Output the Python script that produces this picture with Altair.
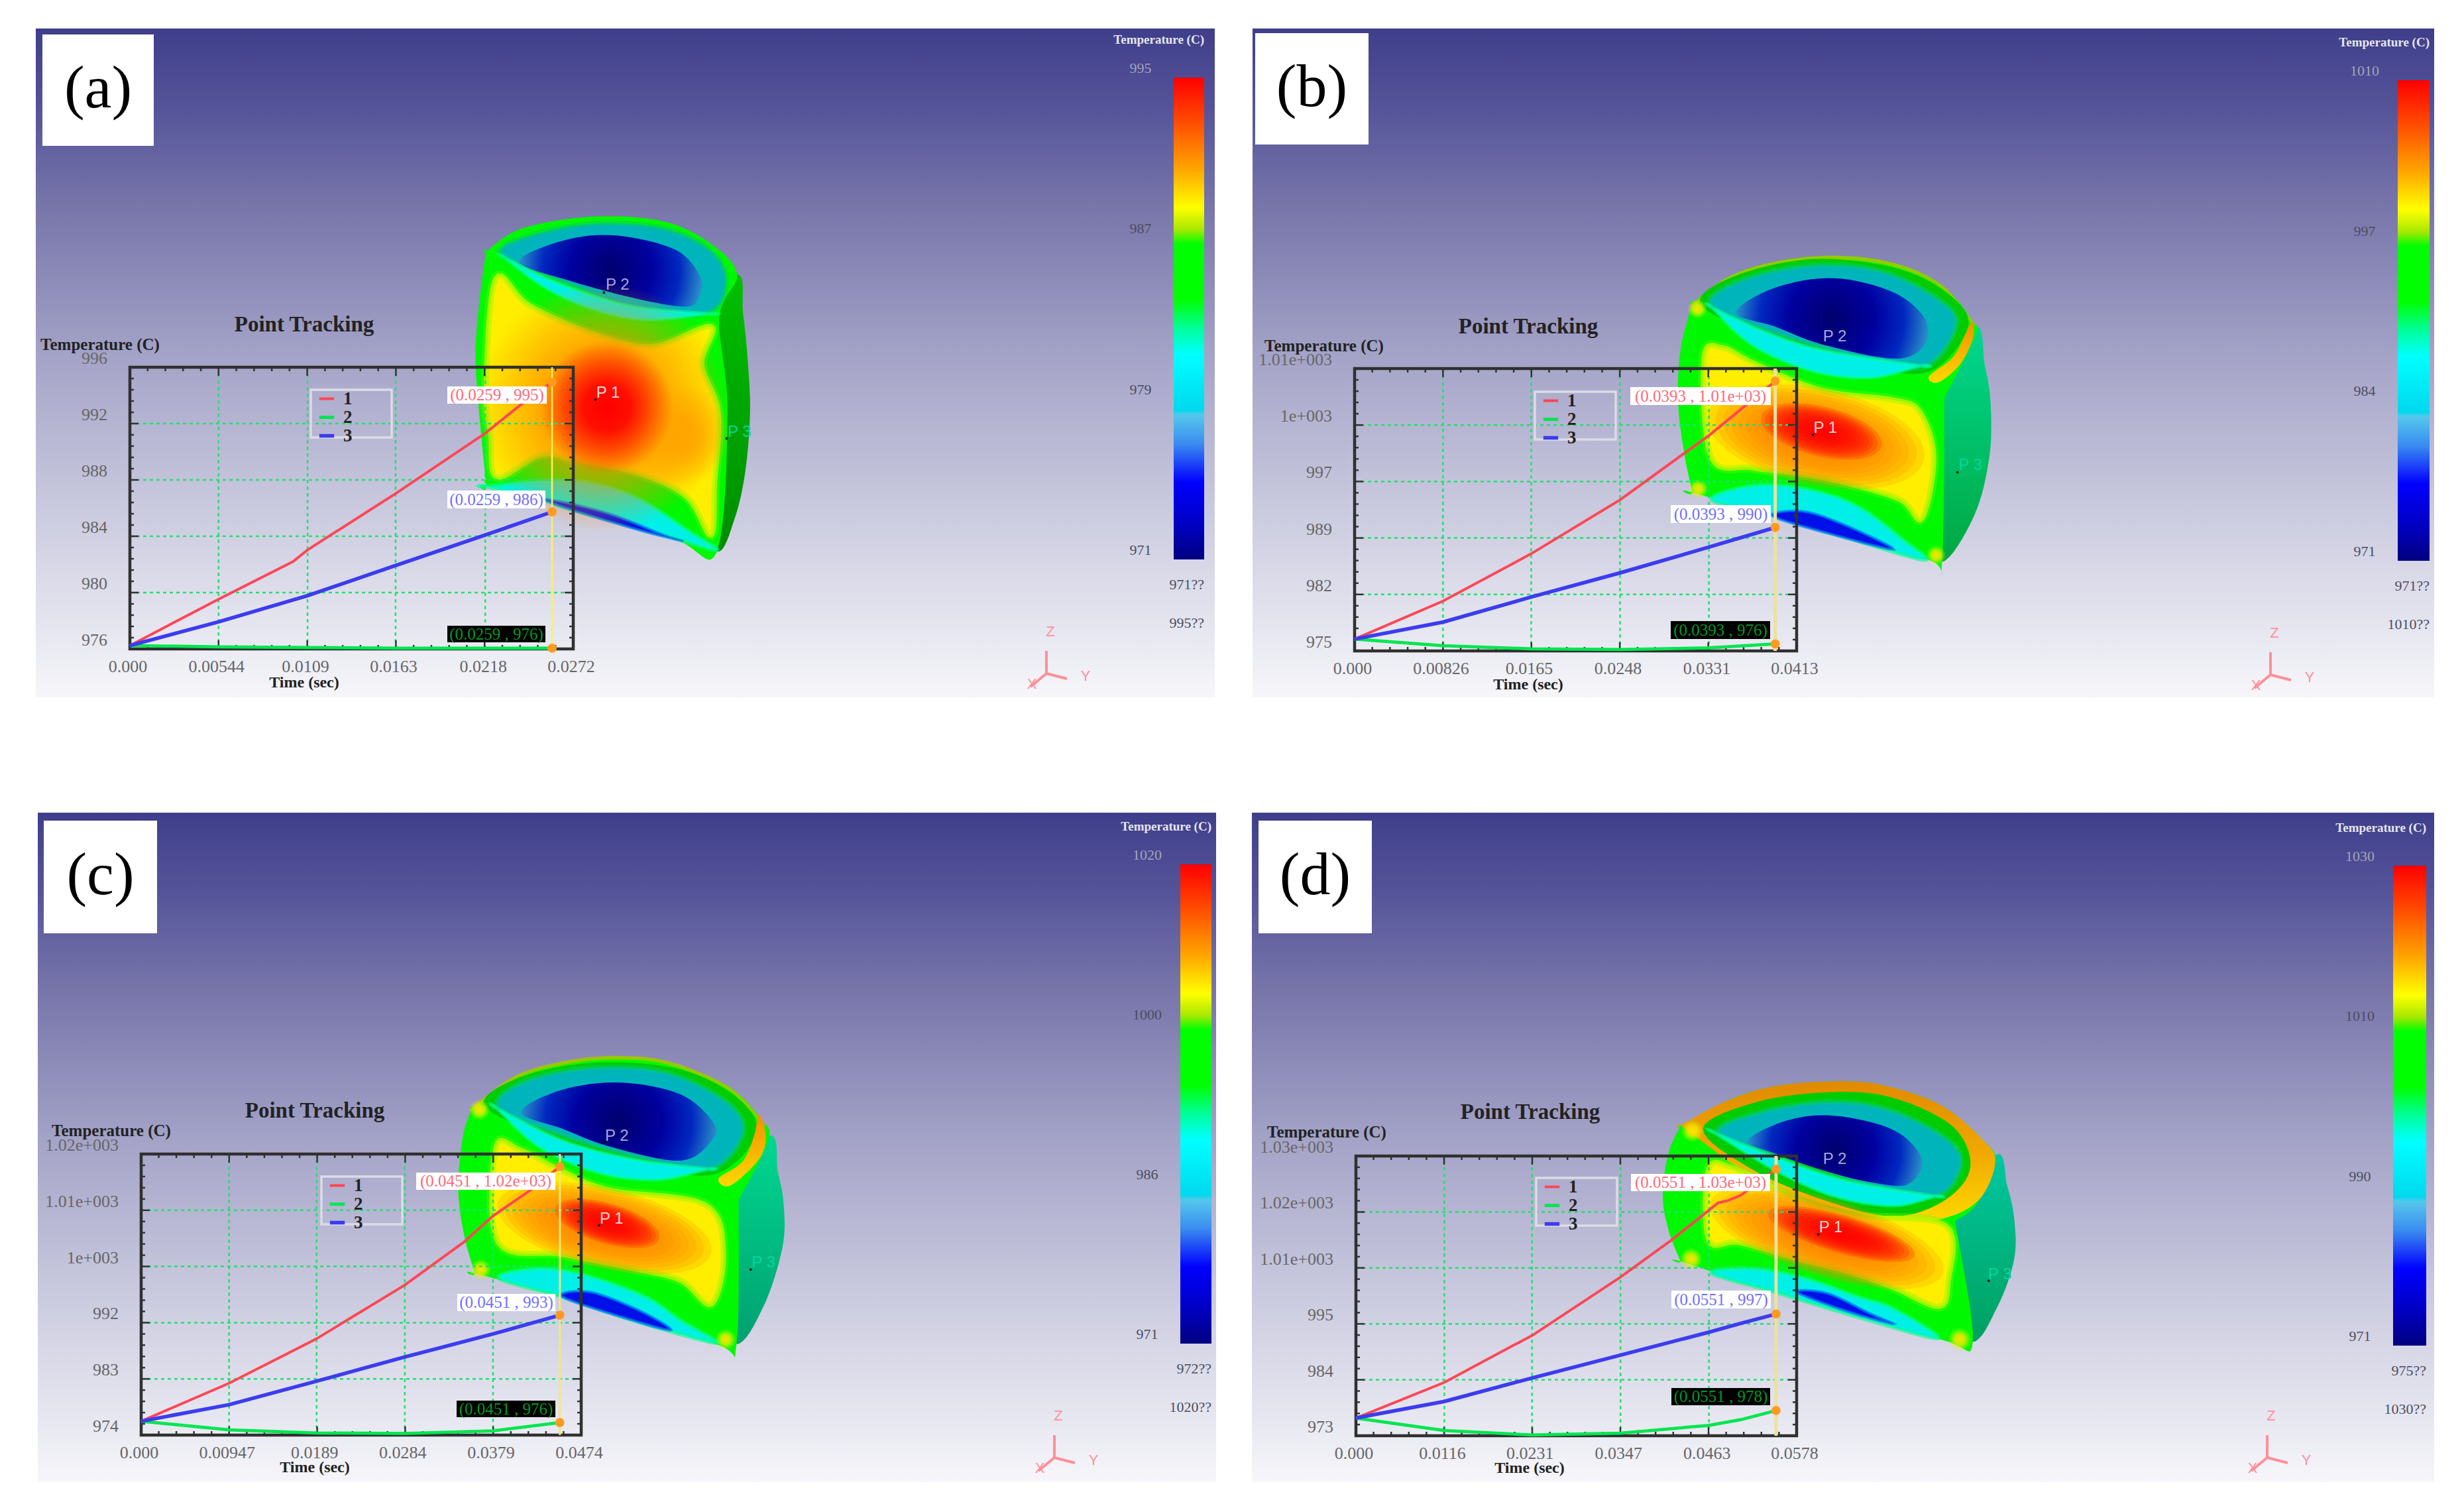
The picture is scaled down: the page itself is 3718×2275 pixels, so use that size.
import math

import altair as alt
import pandas as pd

T_A_1 = [0, 0.00544, 0.0100, 0.0109, 0.0163, 0.0218, 0.0240, 0.0259]
RED_A = [976.24, 979.53, 982.2, 983.03, 987.03, 991.31, 993.36, 994.94]
T_A = [0, 0.00544, 0.0109, 0.0163, 0.0218, 0.0259]
GREEN_A = [976.24, 976.15, 976.1, 976.05, 976.05, 976.05]
BLUE_A = [976.24, 977.92, 979.78, 981.92, 984.09, 985.73]

T_B_1 = [0, 0.00826, 0.0165, 0.0248, 0.0309, 0.0331, 0.0364, 0.0393]
RED_B = [976.51, 981.36, 987.39, 994.26, 1000.29, 1002.46, 1006.15, 1009.4]
T_B = [0, 0.00826, 0.0165, 0.0248, 0.0331, 0.0393]
GREEN_B = [976.51, 975.67, 975.27, 975.17, 975.4, 975.9]
BLUE_B = [976.51, 978.68, 981.87, 984.95, 988.23, 990.74]

T_C_1 = [0, 0.00947, 0.0189, 0.0284, 0.0348, 0.0379, 0.0422, 0.0451]
RED_C = [976.22, 982.3, 989.43, 998.03, 1004.95, 1009.1, 1013.5, 1017.0]
T_C = [0, 0.00947, 0.0189, 0.0284, 0.0379, 0.0451]
GREEN_C = [976.22, 974.84, 974.34, 974.25, 974.67, 976.01]
BLUE_C = [976.22, 978.87, 982.64, 986.5, 990.19, 993.2]

T_D_1 = [0, 0.0116, 0.0205, 0.0231, 0.0347, 0.0415, 0.0475, 0.0487, 0.0505, 0.0551]
RED_D = [976.48, 983.49, 990.65, 992.7, 1004.2, 1011.6, 1018.8, 1019.2, 1020.3, 1025.4]
T_D = [0, 0.0116, 0.0231, 0.0347, 0.0463, 0.0505, 0.0551]
GREEN_D = [976.48, 974.02, 973.15, 973.51, 975.05, 976.17, 977.96]
BLUE_D = [976.48, 979.75, 984.36, 988.86, 993.36, 995.1, 996.94]

# --- tick values and their labels ---
XTICKS_A = [0, 0.00544, 0.0109, 0.0163, 0.0218, 0.0272]
XLABELS_A = ["0.000", "0.00544", "0.0109", "0.0163", "0.0218", "0.0272"]
YTICKS_A = [976, 980, 984, 988, 992, 996]
YLABELS_A = ["976", "980", "984", "988", "992", "996"]

XTICKS_B = [0, 0.00826, 0.0165, 0.0248, 0.0331, 0.0413]
XLABELS_B = ["0.000", "0.00826", "0.0165", "0.0248", "0.0331", "0.0413"]
YTICKS_B = [975, 982.2, 989.4, 996.6, 1003.8, 1011]
YLABELS_B = ["975", "982", "989", "997", "1e+003", "1.01e+003"]

XTICKS_C = [0, 0.00947, 0.0189, 0.0284, 0.0379, 0.0474]
XLABELS_C = ["0.000", "0.00947", "0.0189", "0.0284", "0.0379", "0.0474"]
YTICKS_C = [974, 983, 992, 1001, 1010, 1019]
YLABELS_C = ["974", "983", "992", "1e+003", "1.01e+003", "1.02e+003"]

XTICKS_D = [0, 0.0116, 0.0231, 0.0347, 0.0463, 0.0578]
XLABELS_D = ["0.000", "0.0116", "0.0231", "0.0347", "0.0463", "0.0578"]
YTICKS_D = [973, 984, 995, 1006, 1017, 1028]
YLABELS_D = ["973", "984", "995", "1.01e+003", "1.02e+003", "1.03e+003"]

# --- colour bar labels, top to bottom ---
BAR_A = ["995", "987", "979", "971"]
BAR_B = ["1010", "997", "984", "971"]
BAR_C = ["1020", "1000", "986", "971"]
BAR_D = ["1030", "1010", "990", "971"]

SERIES = ["1", "2", "3"]
SERIES_COLORS = ["#ff4655", "#00e650", "#3c3cf0"]

# --- the rendered solid, outlines in zoomed-crop units (2.8 per pixel) ---
ZOOM = 2.8
SOLID_A = dict(
    origin=(680, 300),
    side=[(1210, 320), (1235, 480), (1255, 680), (1265, 900), (1245, 1150), (1200, 1350), (1125, 1490), (1000, 1300), (1000, 500)],
    side_fill=("#00c000", "#008c00"),
    body=[(150, 222), (150, 222), (300, 125), (600, 75), (900, 95), (1100, 190), (1210, 320), (1135, 500), (1170, 900),
          (1125, 1490), (950, 1440), (500, 1300), (150, 1210), (150, 1210), (120, 900), (105, 650), (125, 400)],
    dark=[],
    ring=[(215, 235), (320, 160), (600, 105), (900, 125), (1100, 220), (1165, 350), (1090, 480), (800, 470), (500, 360)],
    bowl=[(290, 265), (480, 175), (700, 155), (950, 215), (1055, 330), (1050, 410), (1000, 455), (800, 425), (500, 345)],
    lip=[(230, 250), (230, 250), (400, 335), (600, 410), (800, 460), (1090, 485), (1090, 485), (820, 510), (600, 465), (400, 375)],
    rim=[], edge=[],
    zone=[(190, 340), (330, 450), (600, 570), (850, 625), (1100, 540), (1060, 700), (1130, 900), (1115, 1200),
          (1100, 1420), (1000, 1260), (800, 1160), (520, 1100), (380, 1080), (195, 1175), (170, 1000), (150, 800)],
    glows=[(640, 880, 530, "255,140,0"), (960, 1000, 220, "255,165,0"), (660, 880, 280, "255,0,0")],
    streaks=[],
    low=[(150, 1215), (150, 1215), (400, 1190), (600, 1200), (800, 1270), (1000, 1400), (1125, 1485), (900, 1420), (500, 1310), (380, 1270)],
    deep=[(400, 1270), (520, 1290), (700, 1340), (900, 1420), (980, 1445), (800, 1400), (500, 1310)],
    corners=[],
    marks=dict(p1=(665, 820), p2=(705, 365), p3=(1220, 985), d1=(612, 848), d2=(648, 396), d3=(1166, 1012)),
)
SOLID_B = dict(
    origin=(2500, 350),
    side=[(1340, 400), (1385, 560), (1410, 720), (1405, 950), (1340, 1200), (1200, 1395), (1100, 1200), (1100, 700)],
    side_fill=("#00d890", "#00a840"),
    body=[(150, 300), (150, 300), (300, 190), (500, 125), (750, 100), (1000, 130), (1200, 220), (1330, 370), (1345, 440), (1215, 700), (1215, 700),
          (1205, 1395), (1150, 1385), (700, 1260), (150, 1100), (150, 1100), (115, 930), (90, 720), (100, 500)],
    dark=[(185, 305), (320, 190), (650, 115), (1000, 150), (1230, 260), (1315, 400), (1150, 590), (850, 560), (450, 440)],
    ring=[(225, 310), (350, 205), (650, 140), (950, 165), (1200, 290), (1265, 400), (1130, 570), (850, 530), (500, 430)],
    bowl=[(335, 340), (500, 235), (750, 195), (1000, 255), (1135, 370), (1125, 485), (1000, 535), (700, 475), (500, 400)],
    lip=[(235, 320), (235, 320), (450, 420), (700, 500), (1115, 565), (1115, 565), (900, 615), (650, 585), (400, 475)],
    rim=[(1150, 610), (1250, 530), (1300, 440), (1330, 380), (1335, 450), (1280, 560), (1190, 635)],
    edge=[(160, 295), (300, 190), (500, 125), (750, 100), (1000, 130), (1200, 220), (1330, 370)],
    zone=[(200, 530), (280, 490), (420, 560), (700, 670), (1000, 710), (1110, 760), (1170, 950), (1120, 1210),
          (1030, 1130), (800, 1060), (600, 1020), (400, 995), (230, 950)],
    glows=[],
    streaks=[(215, 770, 1130, 960, 205, "255,130,0"), (440, 780, 950, 905, 105, "255,0,0")],
    low=[(230, 1130), (420, 1070), (650, 1090), (850, 1160), (1040, 1300), (1130, 1385), (800, 1290), (500, 1200)],
    deep=[(490, 1200), (620, 1180), (800, 1240), (1000, 1340), (750, 1280)],
    corners=[(172, 325, 30), (175, 1085, 30), (1180, 1365, 30)],
    marks=dict(p1=(712, 830), p2=(752, 442), p3=(1325, 985), d1=(660, 856), d2=(700, 470), d3=(1270, 1015)),
)
SOLID_C = dict(
    origin=(670, 1560),
    side=[(1370, 430), (1410, 580), (1435, 720), (1430, 900), (1350, 1150), (1230, 1310), (1100, 1100), (1100, 700)],
    side_fill=("#00d890", "#00a070"),
    body=[(120, 310), (120, 310), (300, 180), (500, 120), (720, 95), (950, 120), (1200, 220), (1340, 360), (1370, 450), (1245, 700), (1245, 700),
          (1235, 1315), (1150, 1310), (600, 1140), (130, 1010), (130, 1010), (85, 850), (60, 650), (80, 430)],
    dark=[(170, 300), (330, 180), (650, 120), (1000, 150), (1240, 270), (1320, 420), (1150, 590), (850, 560), (450, 440)],
    ring=[(225, 310), (350, 195), (650, 140), (950, 165), (1200, 290), (1265, 420), (1130, 570), (850, 530), (500, 430)],
    bowl=[(325, 330), (500, 235), (750, 205), (1000, 255), (1135, 370), (1135, 445), (1000, 535), (700, 475), (500, 400)],
    lip=[(225, 315), (225, 315), (500, 450), (800, 530), (1115, 570), (1115, 570), (900, 615), (650, 585), (400, 475)],
    rim=[(1160, 610), (1260, 540), (1310, 430), (1330, 340), (1360, 430), (1330, 530), (1210, 640)],
    edge=[(130, 300), (300, 175), (500, 115), (720, 92), (950, 115), (1200, 220), (1340, 360)],
    zone=[(220, 480), (320, 490), (500, 580), (700, 660), (1100, 720), (1180, 920), (1130, 1140), (1000, 1040),
          (800, 990), (500, 930), (230, 880)],
    glows=[],
    streaks=[(225, 715, 1130, 925, 170, "255,130,0"), (470, 735, 910, 865, 85, "255,0,0")],
    low=[(230, 1030), (400, 990), (600, 1020), (850, 1110), (1000, 1210), (1150, 1305), (800, 1210), (500, 1110)],
    deep=[(500, 1110), (620, 1090), (830, 1170), (960, 1250), (800, 1210)],
    corners=[(150, 320, 32), (155, 995, 32), (1190, 1290, 32)],
    marks=dict(p1=(708, 780), p2=(730, 430), p3=(1350, 965), d1=(655, 808), d2=(675, 457), d3=(1296, 995)),
)
SOLID_D = dict(
    origin=(2500, 1560),
    side=[(1430, 510), (1480, 640), (1510, 780), (1510, 950), (1440, 1150), (1330, 1300), (1200, 1100), (1200, 800)],
    side_fill=("#00c8a0", "#00a060"),
    body=[(100, 390), (100, 390), (300, 280), (500, 220), (750, 200), (950, 215), (1200, 300), (1380, 450), (1430, 540), (1350, 720), (1260, 790), (1260, 790),
          (1335, 1300), (1200, 1290), (600, 1120), (100, 960), (100, 960), (50, 830), (25, 680), (50, 500)],
    dark=[(195, 400), (430, 285), (750, 245), (1000, 270), (1250, 390), (1325, 560), (1220, 700), (1000, 770), (700, 700), (400, 570)],
    ring=[(255, 420), (450, 325), (750, 285), (1000, 325), (1235, 450), (1285, 560), (1180, 685), (900, 640), (600, 540)],
    bowl=[(385, 450), (550, 365), (750, 345), (1000, 405), (1120, 530), (1060, 635), (900, 625), (700, 575), (500, 505)],
    lip=[(250, 420), (250, 420), (500, 520), (800, 620), (1175, 685), (1175, 685), (1000, 725), (750, 685), (500, 575)],
    rim=[(100, 385), (100, 385), (300, 280), (500, 220), (750, 200), (950, 215), (1200, 300), (1380, 450), (1430, 540), (1370, 690),
         (1240, 770), (1050, 790), (700, 720), (400, 600), (200, 460)],
    edge=[],
    zone=[(220, 570), (330, 570), (600, 700), (850, 770), (1220, 810), (1230, 1050), (1190, 1150), (1000, 1070),
          (800, 1000), (600, 950), (350, 880), (220, 870)],
    glows=[],
    streaks=[(225, 710, 1210, 1010, 165, "255,130,0"), (470, 755, 1090, 935, 80, "255,0,0")],
    low=[(230, 1010), (400, 990), (620, 1030), (850, 1110), (1000, 1160), (1190, 1285), (900, 1210), (500, 1090)],
    deep=[(590, 1090), (720, 1095), (900, 1180), (1000, 1225), (800, 1170)],
    corners=[(150, 410, 34), (145, 950, 34), (1280, 1290, 36)],
    marks=dict(p1=(735, 818), p2=(752, 530), p3=(1450, 1015), d1=(682, 846), d2=(698, 558), d3=(1402, 1042)),
)

# --- layout, in image pixels ---
OFF = 8
PANELS = [
    dict(tag="(a)", rect=(54, 43, 1833, 1052), tag_box=(64, 52, 232, 220), frame=(196, 554, 865, 979),
         xdom=(0, 0.0272), xticks=XTICKS_A, xlabels=XLABELS_A, ydom=(976, 996), yticks=YTICKS_A, ylabels=YLABELS_A,
         t1=T_A_1, red=RED_A, t=T_A, green=GREEN_A, blue=BLUE_A,
         head=(459, 490), ytitle=(151, 520), xtitle=(459, 1030), legend=(469, 588),
         boxes=[(675, 583, 825, 609, "(0.0259 , 995)"), (675, 740, 823, 767, "(0.0259 , 986)"), (675, 944, 823, 969, "(0.0259 , 976)")],
         bar=(1771, 117, 1817, 844), bar_labels=BAR_A, low_high=("971??", "995??"), triad=(1579, 1016), solid=SOLID_A,
         cursor=("#fff060", 2.5)),
    dict(tag="(b)", rect=(1890, 43, 3673, 1052), tag_box=(1894, 50, 2065, 218), frame=(2044, 556, 2711, 982),
         xdom=(0, 0.0413), xticks=XTICKS_B, xlabels=XLABELS_B, ydom=(975, 1011), yticks=YTICKS_B, ylabels=YLABELS_B,
         t1=T_B_1, red=RED_B, t=T_B, green=GREEN_B, blue=BLUE_B,
         head=(2306, 493), ytitle=(1998, 522), xtitle=(2306, 1033), legend=(2316, 591),
         boxes=[(2460, 584, 2672, 611, "(0.0393 , 1.01e+03)"), (2521, 762, 2672, 789, "(0.0393 , 990)"), (2521, 937, 2671, 964, "(0.0393 , 976)")],
         bar=(3618, 121, 3666, 846), bar_labels=BAR_B, low_high=("971??", "1010??"), triad=(3426, 1018), solid=SOLID_B,
         cursor=("#ece39a", 5)),
    dict(tag="(c)", rect=(57, 1226, 1835, 2236), tag_box=(66, 1238, 237, 1408), frame=(213, 1741, 877, 2165),
         xdom=(0, 0.0474), xticks=XTICKS_C, xlabels=XLABELS_C, ydom=(974, 1019), yticks=YTICKS_C, ylabels=YLABELS_C,
         t1=T_C_1, red=RED_C, t=T_C, green=GREEN_C, blue=BLUE_C,
         head=(475, 1676), ytitle=(168, 1706), xtitle=(475, 2214), legend=(485, 1775),
         boxes=[(628, 1769, 838, 1795, "(0.0451 , 1.02e+03)"), (690, 1952, 838, 1978, "(0.0451 , 993)"), (689, 2113, 838, 2138, "(0.0451 , 976)")],
         bar=(1781, 1304, 1828, 2027), bar_labels=BAR_C, low_high=("972??", "1020??"), triad=(1591, 2199), solid=SOLID_C,
         cursor=("#f4e878", 3)),
    dict(tag="(d)", rect=(1889, 1226, 3673, 2236), tag_box=(1899, 1238, 2070, 1408), frame=(2046, 1744, 2711, 2166),
         xdom=(0, 0.0578), xticks=XTICKS_D, xlabels=XLABELS_D, ydom=(973, 1028), yticks=YTICKS_D, ylabels=YLABELS_D,
         t1=T_D_1, red=RED_D, t=T_D, green=GREEN_D, blue=BLUE_D,
         head=(2309, 1678), ytitle=(2002, 1708), xtitle=(2308, 2215), legend=(2318, 1777),
         boxes=[(2461, 1771, 2671, 1797, "(0.0551 , 1.03e+03)"), (2522, 1947, 2672, 1974, "(0.0551 , 997)"), (2522, 2094, 2671, 2120, "(0.0551 , 978)")],
         bar=(3611, 1306, 3661, 2030), bar_labels=BAR_D, low_high=("975??", "1030??"), triad=(3421, 2199), solid=SOLID_D,
         cursor=("#ece39a", 5)),
]

SERIF = "Liberation Serif"
BAR_TEXT = "#4c4c60"
BAR_TEXT_TOP = "#a4a4b8"
ONE = alt.Data(values=[{}])
BACKDROP = [(0, "#3f3e8a"), (0.12, "#55549a"), (0.25, "#7472a8"), (0.5, "#a6a5c9"), (0.75, "#cfcfe2"), (1, "#f6f6fa")]
BAR_STOPS = [(0, "#ff0000"), (0.09, "#ff4a00"), (0.19, "#ffa500"), (0.27, "#ffff00"), (0.315, "#a8e800"), (0.345, "#00ff00"),
             (0.46, "#00ff00"), (0.52, "#00ff99"), (0.575, "#00ffff"), (0.69, "#00d8ee"), (0.70, "#55c8ec"), (0.76, "#3a8cf0"),
             (0.84, "#0000ff"), (0.93, "#0000c0"), (1, "#000080")]
BOWL_STOPS = [(0, "#00006e"), (0.45, "#0000a0"), (0.75, "#0028c0"), (1, "#2a8cc8")]


def linear(stops):
    return {"gradient": "linear", "x1": 0, "x2": 0, "y1": 0, "y2": 1,
            "stops": [{"offset": o, "color": c} for o, c in stops]}


def radial(stops):
    return {"gradient": "radial", "x1": 0.5, "y1": 0.5, "r1": 0, "x2": 0.5, "y2": 0.5, "r2": 0.5,
            "stops": [{"offset": o, "color": c} for o, c in stops]}


def text(x, y, s, **style):
    return alt.Chart(ONE).mark_text(text=s, baseline="middle", **style).encode(
        x=alt.value(x - OFF), y=alt.value(y - OFF))


def box(x0, y0, x1, y1, **style):
    return alt.Chart(ONE).mark_rect(**style).encode(
        x=alt.value(x0 - OFF), x2=alt.value(x1 - OFF), y=alt.value(y0 - OFF), y2=alt.value(y1 - OFF))


def segment(x0, y0, x1, y1, **style):
    return alt.Chart(ONE).mark_rule(**style).encode(
        x=alt.value(x0 - OFF), x2=alt.value(x1 - OFF), y=alt.value(y0 - OFF), y2=alt.value(y1 - OFF))


def smooth(points, steps=8):
    # closed Catmull-Rom through the outline, a repeated point makes a corner
    out = []
    n = len(points)
    for i in range(n):
        p0, p1, p2, p3 = points[i - 1], points[i], points[(i + 1) % n], points[(i + 2) % n]
        for k in range(steps):
            t = k / steps
            out.append(tuple(
                0.5 * (2 * p1[c] + (p2[c] - p0[c]) * t + (2 * p0[c] - 5 * p1[c] + 4 * p2[c] - p3[c]) * t ** 2
                       + (3 * p1[c] - p0[c] - 3 * p2[c] + p3[c]) * t ** 3)
                for c in (0, 1)))
    return out


def polygon(points, origin, round_it=True, **style):
    pts = smooth(points) if round_it else points
    ring = [[origin[0] + x / ZOOM, origin[1] + y / ZOOM] for x, y in pts]
    ring.append(ring[0])
    feature = {"type": "Feature", "properties": {}, "geometry": {"type": "Polygon", "coordinates": [ring]}}
    return alt.Chart(alt.Data(values=[feature])).mark_geoshape(**style).project(
        type="identity", scale=1, translate=[-OFF, -OFF])


def disc(cx, cy, r, origin, **style):
    pts = [(cx + r * math.cos(i * math.pi / 18), cy + r * math.sin(i * math.pi / 18)) for i in range(36)]
    return polygon(pts, origin, round_it=False, **style)


def streak(x0, y0, x1, y1, w, rgb, origin, rounds=14):
    # nested tilted ellipses, thin veils that add up to a soft hot band
    cx, cy = (x0 + x1) / 2, (y0 + y1) / 2
    a = math.hypot(x1 - x0, y1 - y0) / 2
    tilt = math.atan2(y1 - y0, x1 - x0)
    out = []
    for i in range(rounds):
        f = 1 - i / rounds
        pts = []
        for k in range(36):
            u, v = a * f * math.cos(k * math.pi / 18), w * f * math.sin(k * math.pi / 18)
            pts.append((cx + u * math.cos(tilt) - v * math.sin(tilt), cy + u * math.sin(tilt) + v * math.cos(tilt)))
        out.append(polygon(pts, origin, round_it=False, fill=f"rgb({rgb})", fillOpacity=0.2, strokeWidth=0))
    return out


def solid_layers(s):
    o = s["origin"]
    layers = [
        polygon(s["side"], o, fill=linear([(0, s["side_fill"][0]), (1, s["side_fill"][1])]), strokeWidth=0),
        polygon(s["body"], o, fill="#00f800", strokeWidth=0),
    ]
    if s["edge"]:
        band = s["edge"] + [(x, y + 16) for x, y in s["edge"][::-1]]
        layers.append(polygon(band, o, fill="#a8c400", fillOpacity=0.85, strokeWidth=0))
    if s["dark"] and s["rim"] and len(s["rim"]) > 10:
        layers.append(polygon(s["rim"], o, fill=linear([(0, "#e08a00"), (0.5, "#f0a800"), (1, "#ffd800")]), strokeWidth=0))
    if s["dark"]:
        layers.append(polygon(s["dark"], o, fill="#00cc00", strokeWidth=0))
    if s["rim"] and len(s["rim"]) <= 10:
        layers.append(polygon(s["rim"], o, fill=linear([(0, "#f09000"), (1, "#ffd800")]), strokeWidth=0))
    layers.append(polygon(s["ring"], o, fill="#00b4bc", stroke="#00d060", strokeWidth=8, strokeOpacity=0.5))
    layers.append(polygon(s["lip"], o, fill="#00f0e8", stroke="#00ffa0", strokeWidth=5, strokeOpacity=0.6))
    layers.append(polygon(s["bowl"], o, fill=radial(BOWL_STOPS), strokeWidth=0))
    layers.append(polygon(s["low"], o, fill="#00f0e8", stroke="#00ff90", strokeWidth=6, strokeOpacity=0.6))
    layers.append(polygon(s["deep"], o, fill="#0010e8", stroke="#0080f0", strokeWidth=4, strokeOpacity=0.7))
    layers.append(polygon(s["zone"], o, fill="#70ff00", stroke="#70ff00", strokeWidth=16, strokeOpacity=0.35))
    layers.append(polygon(s["zone"], o, fill="#ffee00", stroke="#c0f400", strokeWidth=8, strokeOpacity=0.8))
    for cx, cy, r, rgb in s["glows"]:
        stops = [(0, f"rgba({rgb},1)"), (0.35, f"rgba({rgb},0.9)"), (1, f"rgba({rgb},0)")]
        layers.append(disc(cx, cy, r, o, fill=radial(stops), strokeWidth=0))
    for row in s["streaks"]:
        layers += streak(*row, o)
    for cx, cy, r in s["corners"]:
        stops = [(0, "rgba(255,225,0,1)"), (0.45, "rgba(255,235,0,0.75)"), (1, "rgba(200,255,0,0)")]
        layers.append(disc(cx, cy, r * 1.4, o, fill=radial(stops), strokeWidth=0))
    m = s["marks"]
    for key, color in (("p1", "#ffd8d8"), ("p2", "#a8a8d8"), ("p3", "#00d8a0")):
        x, y = m[key]
        layers.append(text(o[0] + x / ZOOM, o[1] + y / ZOOM, "P " + key[1], font="Liberation Sans", fontSize=24,
                           align="center", color=color))
    for key in ("d1", "d2", "d3"):
        x, y = m[key]
        layers.append(alt.Chart(ONE).mark_circle(color="#101010", size=14, opacity=1).encode(
            x=alt.value(o[0] + x / ZOOM - OFF), y=alt.value(o[1] + y / ZOOM - OFF)))
    return layers


def inset_layers(p):
    left, top, right, bottom = p["frame"]
    x_scale = alt.Scale(domain=list(p["xdom"]), range=[left - OFF, right - OFF], nice=False, zero=False)
    y_scale = alt.Scale(domain=list(p["ydom"]), range=[bottom - OFF, top - OFF], nice=False, zero=False)
    xdom, ydom = p["xdom"], p["ydom"]

    def xq(field):
        return alt.X(field, type="quantitative", scale=x_scale, axis=None)

    def yq(field):
        return alt.Y(field, type="quantitative", scale=y_scale, axis=None)

    def y_span():
        return dict(y=alt.Y(datum=ydom[0], type="quantitative", scale=y_scale, axis=None), y2=alt.Y2(datum=ydom[1]))

    def x_span():
        return dict(x=alt.X(datum=xdom[0], type="quantitative", scale=x_scale, axis=None), x2=alt.X2(datum=xdom[1]))

    grid = dict(color="#22e070", strokeWidth=2.5, strokeDash=[5, 5])
    v_grid = alt.Chart(pd.DataFrame({"v": p["xticks"][1:-1]})).mark_rule(**grid).encode(x=xq("v"), **y_span())
    h_grid = alt.Chart(pd.DataFrame({"v": p["yticks"][1:-1]})).mark_rule(**grid).encode(y=yq("v"), **x_span())

    # inward tick marks on all four sides, long ones on the grid lines
    tick_style = dict(color="#333333", strokeWidth=2.5)
    x_small = pd.DataFrame({"v": [xdom[1] * i / 25 for i in range(1, 25) if i % 5]})
    x_big = pd.DataFrame({"v": [xdom[1] * i / 25 for i in range(5, 25, 5)]})
    y_small = pd.DataFrame({"v": [ydom[0] + (ydom[1] - ydom[0]) * i / 25 for i in range(1, 25) if i % 5]})
    y_big = pd.DataFrame({"v": [ydom[0] + (ydom[1] - ydom[0]) * i / 25 for i in range(5, 25, 5)]})
    ticks = []
    for frame_x, frame_y, size in ((x_small, y_small, 6), (x_big, y_big, 13)):
        ticks.append(alt.Chart(frame_x).mark_rule(**tick_style).encode(
            x=xq("v"), y=alt.value(bottom - OFF), y2=alt.value(bottom - OFF - size)))
        ticks.append(alt.Chart(frame_x).mark_rule(**tick_style).encode(
            x=xq("v"), y=alt.value(top - OFF), y2=alt.value(top - OFF + size)))
        ticks.append(alt.Chart(frame_y).mark_rule(**tick_style).encode(
            y=yq("v"), x=alt.value(left - OFF), x2=alt.value(left - OFF + size)))
        ticks.append(alt.Chart(frame_y).mark_rule(**tick_style).encode(
            y=yq("v"), x=alt.value(right - OFF), x2=alt.value(right - OFF - size)))

    # tick labels sit on the same scales as the curves
    label_style = dict(font=SERIF, fontSize=26, color="#666666", baseline="middle")
    x_text = alt.Chart(pd.DataFrame({"v": p["xticks"], "label": p["xlabels"]})).mark_text(
        align="center", dx=-3, **label_style).encode(x=xq("v"), y=alt.value(bottom - OFF + 27), text="label:N")
    y_text = alt.Chart(pd.DataFrame({"v": p["yticks"], "label": p["ylabels"]})).mark_text(
        align="right", dy=-13, **label_style).encode(y=yq("v"), x=alt.value(left - OFF - 34), text="label:N")

    rows = []
    for name, ts, vs in (("1", p["t1"], p["red"]), ("2", p["t"], p["green"]), ("3", p["t"], p["blue"])):
        rows += [{"t": a, "temp": b, "series": name} for a, b in zip(ts, vs)]
    curves = pd.DataFrame(rows)
    ends = curves.groupby("series", as_index=False).last()

    lx, ly = p["legend"]
    lines = alt.Chart(curves).mark_line().encode(
        x=xq("t"),
        y=yq("temp"),
        color=alt.Color("series:N", scale=alt.Scale(domain=SERIES, range=SERIES_COLORS), legend=alt.Legend(
            orient="none", legendX=lx + 10 - OFF, legendY=ly + 3 - OFF, title=None, padding=0, symbolType="stroke",
            symbolSize=500, symbolStrokeWidth=5, labelFont=SERIF, labelFontSize=27, labelFontWeight="bold",
            labelColor="#222222", labelOffset=11, clipHeight=21, rowPadding=0, zindex=1)),
        strokeWidth=alt.StrokeWidth("series:N", scale=alt.Scale(domain=SERIES, range=[4, 5.5, 4]), legend=None),
        order="t:Q",
    )

    cursor = alt.Chart(ends.head(1)).mark_rule(color=p["cursor"][0], strokeWidth=p["cursor"][1]).encode(
        x=xq("t"), **y_span())
    dots = alt.Chart(ends).mark_circle(color="#ff9a20", size=190, opacity=1).encode(x=xq("t"), y=yq("temp"))
    frame = alt.Chart(ONE).mark_rect(filled=False, stroke="#303030", strokeWidth=4.5).encode(**x_span(), **y_span())
    return alt.layer(v_grid, h_grid, *ticks, frame, cursor, lines, dots, x_text, y_text)


def bar_layers(p):
    x0, y0, x1, y1 = p["bar"]
    labels = p["bar_labels"]
    scale = alt.Scale(type="point", domain=labels, range=[y0 - OFF, y1 - OFF], padding=0)
    lo, hi = p["low_high"]
    tx, ty = p["triad"]
    pink = "#ff8f98"
    return [
        box(x0, y0, x1, y1, fill=linear(BAR_STOPS)),
        alt.Chart(pd.DataFrame({"label": labels})).mark_text(font=SERIF, fontSize=22, align="center", dy=-14).encode(
            x=alt.value(x0 - 50 - OFF), y=alt.Y("label:N", scale=scale, axis=None, sort=None), text="label:N",
            color=alt.condition(alt.datum.label == labels[0], alt.value(BAR_TEXT_TOP), alt.value(BAR_TEXT))),
        text(x1, y0 - 57, "Temperature (C)", font=SERIF, fontSize=19, fontWeight="bold", color="#e6e6f0", align="right"),
        text(x1, y1 + 38, lo, font=SERIF, fontSize=22, color=BAR_TEXT, align="right"),
        text(x1, y1 + 96, hi, font=SERIF, fontSize=22, color=BAR_TEXT, align="right"),
        segment(tx, ty, tx, ty - 34, color=pink, strokeWidth=4),
        segment(tx, ty, tx + 31, ty + 8, color=pink, strokeWidth=4),
        segment(tx, ty, tx - 24, ty + 20, color=pink, strokeWidth=4),
        text(tx + 6, ty - 63, "Z", font="Liberation Sans", fontSize=22, color=pink, align="center"),
        text(tx + 59, ty + 4, "Y", font="Liberation Sans", fontSize=22, color=pink, align="center"),
        text(tx - 22, ty + 16, "X", font="Liberation Sans", fontSize=22, color=pink, align="center"),
    ]


layers = []
for p in PANELS:
    x0, y0, x1, y1 = p["rect"]
    layers.append(box(x0, y0, x1, y1, fill=linear(BACKDROP)))
    layers += solid_layers(p["solid"])
    layers.append(inset_layers(p))
    for (bx0, by0, bx1, by1, s), bg, fg in zip(p["boxes"], ("#ffffff", "#ffffff", "#000000"), ("#ff6a78", "#6f6fff", "#009a20")):
        layers.append(box(bx0, by0, bx1, by1, fill=bg))
        layers.append(text((bx0 + bx1) / 2, (by0 + by1) / 2, s, font=SERIF, fontSize=25, color=fg, align="center"))
    lx, ly = p["legend"]
    layers.append(box(lx, ly, lx + 122, ly + 72, fillOpacity=0, stroke="#dcdce6", strokeWidth=3.5))
    title_style = dict(font=SERIF, fontWeight="bold", color="#222222", align="center")
    layers.append(text(p["head"][0], p["head"][1], "Point Tracking", fontSize=33, **title_style))
    layers.append(text(p["ytitle"][0], p["ytitle"][1], "Temperature (C)", fontSize=25, **title_style))
    layers.append(text(p["xtitle"][0], p["xtitle"][1], "Time (sec)", fontSize=24, **title_style))
    layers += bar_layers(p)
    bx0, by0, bx1, by1 = p["tag_box"]
    layers.append(box(bx0, by0, bx1, by1, fill="#ffffff"))
    layers.append(text((bx0 + bx1) / 2, (by0 + by1) / 2 - 2, p["tag"], font=SERIF, fontSize=92, color="#000000", align="center"))

chart = alt.layer(*layers).resolve_scale(
    x="independent", y="independent", color="independent", strokeWidth="independent"
).properties(
    width=3702, height=2259, padding=0, autosize=alt.AutoSizeParams(type="none"), background="#ffffff"
).configure_view(stroke=None)

chart.save("out.html", embed_options={"renderer": "svg", "actions": False})
